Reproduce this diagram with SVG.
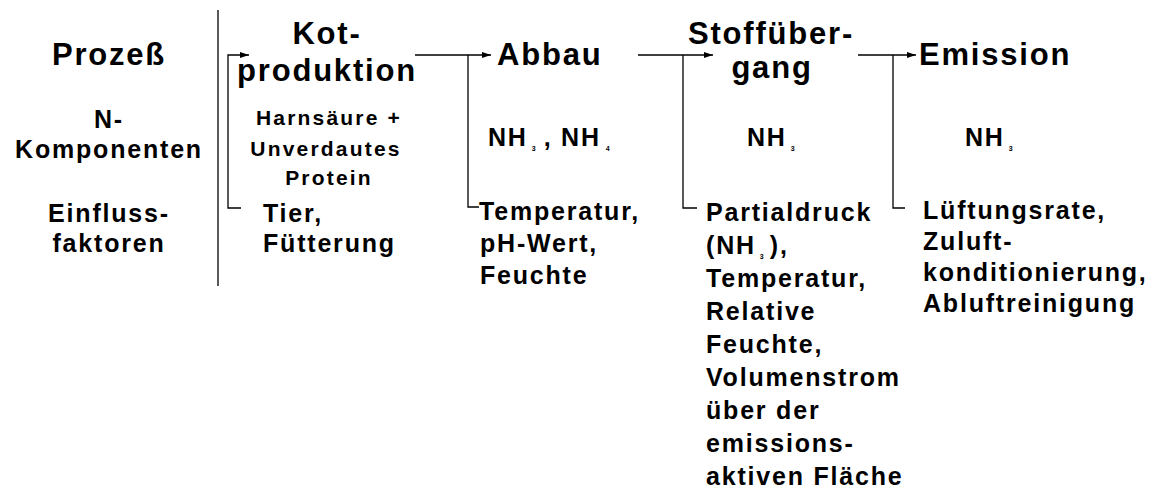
<svg xmlns="http://www.w3.org/2000/svg" width="1154" height="495" viewBox="0 0 1154 495">
<style>
.t{font-family:"Liberation Sans",Arial,sans-serif;font-weight:bold;fill:#000}
.h{font-size:31px;letter-spacing:1.8px}
.b{font-size:25px;letter-spacing:1.8px}
.s{font-size:21px;letter-spacing:2.2px}
.m{text-anchor:middle}
.sub{font-size:7px;letter-spacing:0}
.ln{fill:none;stroke:#000;stroke-width:1.3}
</style>
<defs>
<marker id="ah" markerWidth="10" markerHeight="8" refX="9" refY="4" orient="auto" markerUnits="userSpaceOnUse">
<path d="M0,1 L9,4 L0,7 Z" fill="#000"/>
</marker>
</defs>
<rect width="1154" height="495" fill="#fff"/>
<g id="connectors">
<line class="ln" x1="218" y1="10" x2="218" y2="286"/>
<path class="ln" d="M241,208 H228 V55 H249" marker-end="url(#ah)"/>
<path class="ln" d="M415,55 H491" marker-end="url(#ah)"/>
<path class="ln" d="M468,55 V207 H479"/>
<path class="ln" d="M638,55 H713" marker-end="url(#ah)"/>
<path class="ln" d="M683,55 V208 H697"/>
<path class="ln" d="M858,55 H916" marker-end="url(#ah)"/>
<path class="ln" d="M893,55 V208 H905"/>
</g>
<g id="labels">
<text class="t h m" x="109" y="65">Prozeß</text>
<text class="t b m" x="109" y="128">N-</text>
<text class="t b m" x="109" y="158">Komponenten</text>
<text class="t b m" x="109" y="222">Einfluss-</text>
<text class="t b m" x="109" y="252">faktoren</text>
</g>
<g id="kotproduktion">
<text class="t h m" x="327" y="44">Kot-</text>
<text class="t h m" x="327" y="81">produktion</text>
<text class="t s m" x="329" y="125">Harnsäure +</text>
<text class="t s m" x="326" y="156">Unverdautes</text>
<text class="t s m" x="329" y="185">Protein</text>
<text class="t b" x="263" y="222">Tier,</text>
<text class="t b" x="263" y="252">Fütterung</text>
</g>
<g id="abbau">
<text class="t h" x="497" y="65">Abbau</text>
<text class="t b" x="488" y="146">NH<tspan class="sub" dx="4" dy="5">3</tspan><tspan dx="8" dy="-5">, NH</tspan><tspan class="sub" dx="5" dy="5">4</tspan></text>
<text class="t b" x="479" y="220">Temperatur,</text>
<text class="t b" x="480" y="252">pH-Wert,</text>
<text class="t b" x="480" y="284">Feuchte</text>
</g>
<g id="stoffuebergang">
<text class="t h m" x="771" y="44">Stoffüber-</text>
<text class="t h m" x="772" y="78">gang</text>
<text class="t b" x="747" y="146">NH<tspan class="sub" dx="4" dy="5">3</tspan></text>
<text class="t b" x="706" y="221">Partialdruck</text>
<text class="t b" x="706" y="254">(NH<tspan class="sub" dx="4" dy="5">3</tspan><tspan dx="6" dy="-5">),</tspan></text>
<text class="t b" x="706" y="287">Temperatur,</text>
<text class="t b" x="706" y="320">Relative</text>
<text class="t b" x="706" y="353">Feuchte,</text>
<text class="t b" x="706" y="386">Volumenstrom</text>
<text class="t b" x="706" y="419">über der</text>
<text class="t b" x="706" y="452">emissions-</text>
<text class="t b" x="706" y="485">aktiven Fläche</text>
</g>
<g id="emission">
<text class="t h" x="919" y="65">Emission</text>
<text class="t b" x="965" y="146">NH<tspan class="sub" dx="4" dy="5">3</tspan></text>
<text class="t b" x="923" y="219">Lüftungsrate,</text>
<text class="t b" x="923" y="250">Zuluft-</text>
<text class="t b" x="923" y="281">konditionierung,</text>
<text class="t b" x="923" y="312">Abluftreinigung</text>
</g>
</svg>
